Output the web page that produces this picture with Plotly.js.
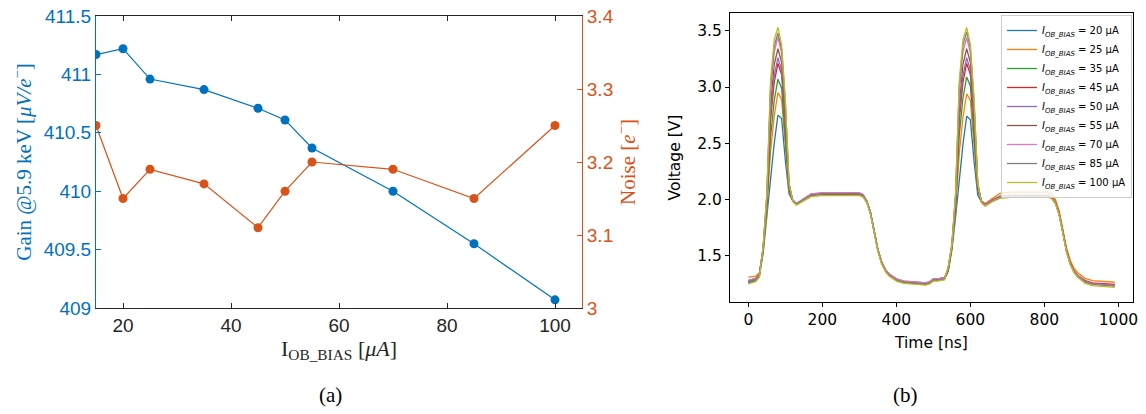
<!DOCTYPE html>
<html><head><meta charset="utf-8">
<script src="https://cdn.plot.ly/plotly-3.0.1.min.js"></script>
<style>html,body{margin:0;padding:0;background:#fff}#chart{width:1146px;height:414px}</style>
</head><body><div id="chart"></div>
<script>
// ---- Panel (a): gain & noise vs I_OB_BIAS ----
const biasCurrent = [15, 20, 25, 35, 45, 50, 55, 70, 85, 100];
const gain = [411.17, 411.22, 410.96, 410.87, 410.71, 410.61, 410.37, 410.00, 409.55, 409.07];
const noise = [3.25, 3.15, 3.19, 3.17, 3.11, 3.16, 3.20, 3.19, 3.15, 3.25];

// ---- Panel (b): output waveforms ----
const timeNs = [0,20,30,40,50,60,70,80,90,100,110,120,130,150,170,200,300,310,320,330,340,350,360,370,380,400,420,480,490,500,510,530,540,550,560,570,580,590,600,610,620,630,640,660,680,710,810,820,830,840,850,860,870,880,890,910,930,960,990];
const biasLabels = ['20', '25', '35', '45', '50', '55', '70', '85', '100'];
const v20 = [1.26,1.28,1.32,1.52,1.85,2.20,2.50,2.75,2.72,2.35,2.05,1.99,1.96,2.00,2.035,2.045,2.045,2.03,1.98,1.88,1.72,1.55,1.44,1.37,1.33,1.28,1.26,1.245,1.255,1.28,1.28,1.29,1.36,1.55,1.84,2.19,2.49,2.74,2.71,2.34,2.04,1.98,1.95,1.99,2.025,2.035,2.035,2.02,1.97,1.87,1.71,1.54,1.43,1.36,1.32,1.27,1.25,1.24,1.235];
const v25 = [1.31,1.32,1.35,1.54,1.90,2.42,2.74,2.95,2.89,2.49,2.08,1.99,1.96,2.00,2.04,2.05,2.05,2.035,1.985,1.885,1.725,1.555,1.45,1.38,1.34,1.295,1.275,1.26,1.27,1.295,1.295,1.305,1.37,1.56,1.90,2.41,2.73,2.94,2.88,2.48,2.08,1.99,1.965,2.01,2.055,2.065,2.065,2.05,2.0,1.90,1.74,1.57,1.46,1.39,1.35,1.30,1.28,1.27,1.265];
const v35 = [1.27,1.29,1.33,1.55,1.93,2.55,2.88,3.07,2.99,2.58,2.09,1.99,1.96,2.00,2.04,2.05,2.05,2.035,1.98,1.88,1.72,1.55,1.44,1.37,1.33,1.285,1.265,1.25,1.26,1.285,1.285,1.295,1.37,1.57,1.93,2.57,2.90,3.09,3.01,2.59,2.09,1.985,1.955,1.995,2.03,2.04,2.04,2.025,1.975,1.875,1.715,1.545,1.435,1.365,1.325,1.275,1.255,1.245,1.24];
const v45 = [1.27,1.29,1.33,1.56,1.97,2.70,3.04,3.21,3.11,2.67,2.11,1.99,1.96,2.00,2.04,2.05,2.05,2.035,1.98,1.88,1.72,1.55,1.44,1.37,1.33,1.285,1.265,1.25,1.26,1.285,1.285,1.295,1.38,1.58,1.97,2.70,3.04,3.21,3.11,2.67,2.11,1.985,1.955,1.995,2.025,2.035,2.035,2.02,1.975,1.875,1.715,1.545,1.435,1.365,1.325,1.28,1.26,1.25,1.245];
const v50 = [1.28,1.30,1.34,1.56,1.98,2.76,3.10,3.26,3.15,2.71,2.12,1.995,1.965,2.01,2.05,2.06,2.06,2.045,1.99,1.89,1.73,1.56,1.45,1.38,1.34,1.295,1.275,1.26,1.27,1.295,1.295,1.305,1.38,1.58,1.98,2.76,3.10,3.26,3.15,2.71,2.12,1.985,1.955,1.995,2.025,2.035,2.035,2.02,1.975,1.875,1.715,1.545,1.435,1.365,1.325,1.275,1.255,1.245,1.24];
const v55 = [1.28,1.30,1.34,1.57,2.00,2.84,3.20,3.34,3.22,2.77,2.13,1.99,1.96,2.005,2.045,2.055,2.055,2.04,1.985,1.885,1.725,1.555,1.445,1.375,1.335,1.285,1.265,1.25,1.26,1.285,1.285,1.295,1.38,1.59,2.00,2.84,3.20,3.34,3.22,2.77,2.13,1.98,1.95,1.99,2.02,2.03,2.03,2.015,1.97,1.87,1.71,1.54,1.43,1.36,1.32,1.27,1.25,1.24,1.235];
const v70 = [1.28,1.30,1.34,1.57,2.03,2.95,3.31,3.44,3.30,2.84,2.14,1.995,1.965,2.01,2.05,2.06,2.06,2.045,1.99,1.89,1.73,1.56,1.45,1.38,1.34,1.295,1.275,1.26,1.27,1.295,1.295,1.305,1.39,1.59,2.03,2.95,3.31,3.44,3.30,2.84,2.14,1.98,1.95,1.99,2.02,2.03,2.03,2.015,1.97,1.87,1.71,1.54,1.43,1.36,1.32,1.27,1.25,1.24,1.235];
const v85 = [1.27,1.29,1.33,1.57,2.04,3.00,3.36,3.48,3.34,2.86,2.14,1.99,1.96,2.00,2.04,2.05,2.05,2.035,1.98,1.88,1.72,1.55,1.44,1.37,1.33,1.285,1.265,1.25,1.26,1.285,1.285,1.295,1.39,1.60,2.04,3.01,3.37,3.49,3.35,2.87,2.14,1.975,1.945,1.985,2.015,2.025,2.025,2.01,1.965,1.865,1.705,1.535,1.425,1.355,1.315,1.265,1.245,1.235,1.23];
const v100 = [1.25,1.27,1.31,1.58,2.05,3.05,3.42,3.53,3.38,2.90,2.15,1.98,1.95,1.99,2.025,2.035,2.035,2.02,1.97,1.87,1.71,1.54,1.43,1.36,1.32,1.275,1.255,1.24,1.25,1.275,1.275,1.285,1.40,1.60,2.05,3.05,3.42,3.53,3.38,2.90,2.15,1.97,1.94,1.98,2.01,2.02,2.02,2.005,1.96,1.86,1.70,1.53,1.42,1.35,1.31,1.255,1.235,1.225,1.22];
const waveforms = [v20, v25, v35, v45, v50, v55, v70, v85, v100];
const waveColors = ['#1f77b4','#ff7f0e','#2ca02c','#d62728','#9467bd','#8c564b','#e377c2','#7f7f7f','#bcbd22'];

const BLUE = '#0072BD', ORANGE = '#D95319';
const W = 1146, H = 414;
const SERIF = 'Liberation Serif, DejaVu Serif, serif';
const SANS_M = 'Liberation Sans, Arial, sans-serif';
const SANS_P = 'DejaVu Sans, sans-serif';

const traces = [
  {x: biasCurrent, y: gain, xaxis: 'x', yaxis: 'y', type: 'scatter', mode: 'lines+markers',
   line: {color: BLUE, width: 1.2}, marker: {color: BLUE, size: 9}, showlegend: false, name: 'Gain'},
  {x: biasCurrent, y: noise, xaxis: 'x', yaxis: 'y2', type: 'scatter', mode: 'lines+markers',
   line: {color: ORANGE, width: 1.2}, marker: {color: ORANGE, size: 9}, showlegend: false, name: 'Noise'}
];
waveforms.forEach((v, i) => {
  traces.push({x: timeNs, y: v, xaxis: 'x2', yaxis: 'y3', type: 'scatter', mode: 'lines',
    line: {color: waveColors[i], width: 1.3}, name: '<i>I<sub>OB_BIAS</sub></i> = ' + biasLabels[i] + ' μA'});
});

const layout = {
  width: W, height: H,
  margin: {l: 0, r: 0, t: 0, b: 0},
  paper_bgcolor: '#ffffff', plot_bgcolor: 'rgba(0,0,0,0)',
  font: {family: SANS_M, color: '#262626'},
  xaxis: {
    domain: [96 / W, 582 / W], range: [15, 105], tick0: 0, dtick: 20, anchor: 'y',
    ticks: 'inside', ticklen: 5, tickcolor: '#262626', showline: true, linecolor: '#262626', linewidth: 1,
    mirror: 'ticks', showgrid: false, zeroline: false, automargin: false,
    tickfont: {family: SANS_M, size: 19, color: '#262626'},
    title: {text: 'I<sub>OB_BIAS</sub> [<i>μA</i>]', font: {family: SERIF, size: 22, color: '#262626'}, standoff: 4}
  },
  yaxis: {
    domain: [1 - 308 / H, 1 - 16 / H], range: [409, 411.5], tick0: 409, dtick: 0.5, anchor: 'x',
    ticks: 'inside', ticklen: 5, tickcolor: BLUE, showline: true, linecolor: BLUE, linewidth: 1,
    showgrid: false, zeroline: false, automargin: false,
    tickfont: {family: SANS_M, size: 19, color: BLUE},
    title: {text: 'Gain @5.9 keV [<i>μV/e</i><sup>−</sup>]', font: {family: SERIF, size: 21, color: BLUE}, standoff: 6}
  },
  yaxis2: {
    overlaying: 'y', side: 'right', anchor: 'x', range: [3, 3.4], tick0: 3, dtick: 0.1,
    ticks: 'inside', ticklen: 5, tickcolor: ORANGE, showline: true, linecolor: ORANGE, linewidth: 1,
    showgrid: false, zeroline: false, automargin: false,
    tickfont: {family: SANS_M, size: 19, color: ORANGE},
    title: {text: 'Noise [<i>e</i><sup>−</sup>]', font: {family: SERIF, size: 21, color: ORANGE}, standoff: 6}
  },
  xaxis2: {
    domain: [730 / W, 1133 / W], range: [-49.5, 1039.5], tick0: 0, dtick: 200, anchor: 'y3',
    ticks: 'outside', ticklen: 4, tickcolor: '#000', showline: true, linecolor: '#000', linewidth: 1,
    mirror: true, showgrid: false, zeroline: false, automargin: false,
    tickfont: {family: SANS_P, size: 15.5, color: '#000'},
    title: {text: 'Time [ns]', font: {family: SANS_P, size: 15.5, color: '#000'}, standoff: 8}
  },
  yaxis3: {
    domain: [1 - 301.7 / H, 1 - 13.3 / H], range: [1.092, 3.655], tick0: 1.5, dtick: 0.5, anchor: 'x2',
    tickformat: '.1f',
    ticks: 'outside', ticklen: 4, tickcolor: '#000', showline: true, linecolor: '#000', linewidth: 1,
    mirror: true, showgrid: false, zeroline: false, automargin: false,
    tickfont: {family: SANS_P, size: 15.5, color: '#000'},
    title: {text: 'Voltage [V]', font: {family: SANS_P, size: 15.5, color: '#000'}, standoff: 12}
  },
  showlegend: true,
  legend: {
    x: 1001 / W, y: 1 - 15 / H, xanchor: 'left', yanchor: 'top',
    bgcolor: 'rgba(255,255,255,0.8)', bordercolor: '#cccccc', borderwidth: 1,
    font: {family: SANS_P, size: 10, color: '#000'}, tracegroupgap: 0, itemwidth: 30
  },
  annotations: [
    {text: '(a)', x: 330 / W, y: 1 - 395 / H, xref: 'paper', yref: 'paper', showarrow: false,
     xanchor: 'center', yanchor: 'middle', font: {family: SERIF, size: 21, color: '#000'}},
    {text: '(b)', x: 905 / W, y: 1 - 395 / H, xref: 'paper', yref: 'paper', showarrow: false,
     xanchor: 'center', yanchor: 'middle', font: {family: SERIF, size: 21, color: '#000'}}
  ]
};

Plotly.newPlot('chart', traces, layout, {displayModeBar: false, staticPlot: true});
</script>
</body></html>
